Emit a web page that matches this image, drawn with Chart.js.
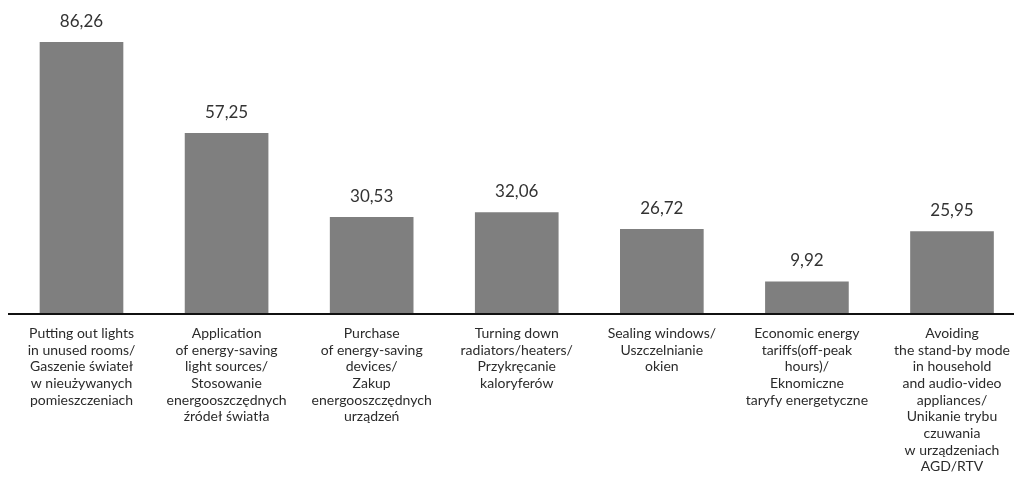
<!DOCTYPE html>
<html>
<head>
<meta charset="utf-8">
<script src="https://cdn.jsdelivr.net/npm/chart.js@4/dist/chart.umd.min.js"></script>
<style>
  html, body { margin: 0; padding: 0; background: #fff; }
  #wrap { width: 1014px; height: 477px; position: relative; }
</style>
</head>
<body>
<div id="wrap"><canvas id="c"></canvas></div>
<script>
// Energy-saving actions declared by households (%)
const categories = [
  ["Putting out lights", "in unused rooms/", "Gaszenie świateł", "w nieużywanych", "pomieszczeniach"],
  ["Application", "of energy-saving", "light sources/", "Stosowanie", "energooszczędnych", "źródeł światła"],
  ["Purchase", "of energy-saving", "devices/", "Zakup", "energooszczędnych", "urządzeń"],
  ["Turning down", "radiators/heaters/", "Przykręcanie", "kaloryferów"],
  ["Sealing windows/", "Uszczelnianie", "okien"],
  ["Economic energy", "tariffs(off-peak", "hours)/", "Eknomiczne", "taryfy energetyczne"],
  ["Avoiding", "the stand-by mode", "in household", "and audio-video", "appliances/", "Unikanie trybu", "czuwania", "w urządzeniach", "AGD/RTV"]
];
const shares = [86.26, 57.25, 30.53, 32.06, 26.72, 9.92, 25.95];

const FONT = "Lato, 'Open Sans', sans-serif";

// value labels above bars, Polish decimal comma
const valueLabels = {
  id: 'valueLabels',
  afterDatasetsDraw(chart) {
    const ctx = chart.ctx;
    const meta = chart.getDatasetMeta(0);
    ctx.save();
    ctx.font = "17px " + FONT;
    ctx.fillStyle = '#333333';
    ctx.textAlign = 'center';
    ctx.textBaseline = 'middle';
    meta.data.forEach((bar, i) => {
      const txt = shares[i].toFixed(2).replace('.', ',');
      ctx.fillText(txt, bar.x, bar.y - 21);
    });
    ctx.restore();
  }
};

// horizontal base line across the full width
const baseLine = {
  id: 'baseLine',
  afterDatasetsDraw(chart) {
    const ctx = chart.ctx;
    const y = chart.scales.y.getPixelForValue(0);
    ctx.save();
    ctx.strokeStyle = '#111111';
    ctx.lineWidth = 2;
    ctx.beginPath();
    ctx.moveTo(8, y + 1);
    ctx.lineTo(1014, y + 1);
    ctx.stroke();
    ctx.restore();
  }
};

new Chart(document.getElementById('c'), {
  type: 'bar',
  data: {
    labels: categories,
    datasets: [{
      data: shares,
      backgroundColor: '#7f7f7f',
      borderWidth: 0,
      barThickness: 83,
      clip: false
    }]
  },
  options: {
    responsive: true,
    maintainAspectRatio: false,
    animation: false,
    layout: { padding: { left: 81.5, right: 62, top: 15, bottom: 2 } },
    plugins: { legend: { display: false }, tooltip: { enabled: false } },
    scales: {
      x: {
        offset: false,
        border: { display: false },
        grid: { display: false, drawTicks: true, tickLength: 12, color: 'rgba(0,0,0,0)' },
        ticks: {
          autoSkip: false,
          maxRotation: 0,
          minRotation: 0,
          padding: 0,
          color: '#2b2b2b',
          font: { family: FONT, size: 14, lineHeight: 1.19 }
        }
      },
      y: {
        display: false,
        min: 0,
        max: 95
      }
    }
  },
  plugins: [valueLabels, baseLine]
});
</script>
</body>
</html>
